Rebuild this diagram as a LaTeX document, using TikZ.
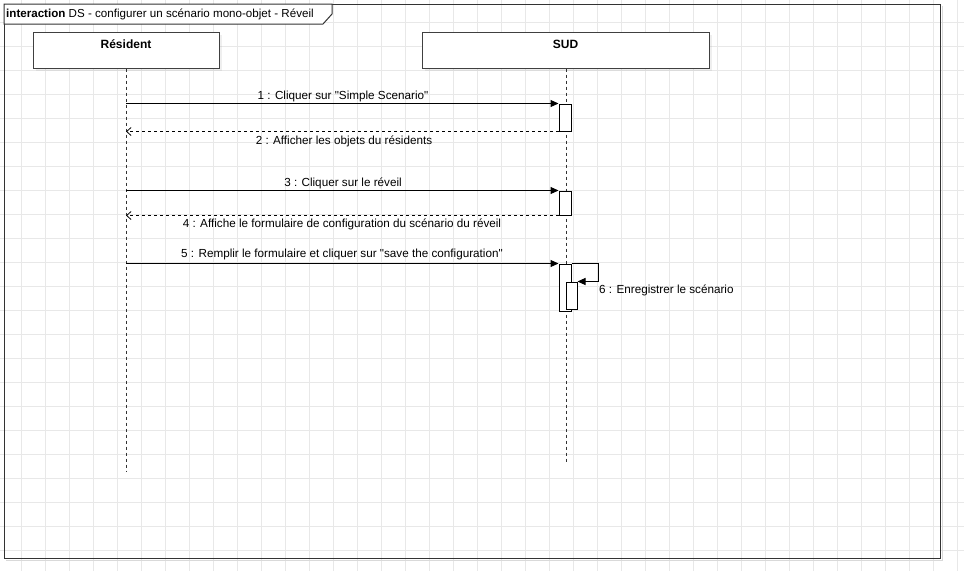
\documentclass[tikz,border=0pt]{standalone}
\usepackage{fontspec}
\setmainfont{Liberation Sans}[Ligatures=TeXOff]
\usetikzlibrary{arrows.meta,shadows,calc}

\begin{document}
\begin{tikzpicture}[x=1pt,y=-1pt,
  gridline/.style={draw=gray!18, line width=0.8pt},
  frameline/.style={draw=black!80, line width=1pt},
  actorbox/.style={draw=black!75, fill=white, line width=1pt, minimum height=36pt,
    inner sep=0pt, drop shadow={shadow xshift=3pt, shadow yshift=-3pt, opacity=0.12}},
  actorname/.style={anchor=base, inner sep=0pt, font=\fontsize{12}{14}\selectfont\bfseries},
  lifeline/.style={draw=black!80, line width=1pt, dash pattern=on 3pt off 3pt},
  actbox/.style={draw=black, fill=white, line width=1pt, minimum width=12pt, inner sep=0pt},
  msg/.style={draw=black, line width=1pt, -{Triangle[length=8pt,width=7pt]}},
  reply/.style={draw=black, line width=1pt, dash pattern=on 3pt off 3pt,
    -{Straight Barb[length=4.5pt,width=8pt,line width=0.8pt]}},
  msglabel/.style={anchor=base, inner sep=0pt, font=\fontsize{11.7}{13.5}\selectfont},
]
\useasboundingbox (0,0) rectangle (964,571);
\fill[white] (0,0) rectangle (964,571);

% background grid
\foreach \gx in {21,45,...,957} \draw[gridline] (\gx,0) -- (\gx,571);
\foreach \gy in {22,46,...,550} \draw[gridline] (0,\gy) -- (964,\gy);

% interaction frame
\draw[draw=black!15, line width=1pt] (6,560) -- (942,560) -- (942,6);
\draw[frameline] (4,4) rectangle (940,558);
\draw[frameline, fill=white] (4,4) -- (332,4) -- (332,14) -- (323,24) -- (4,24) -- cycle;
\node[anchor=base west, inner sep=0pt, font=\fontsize{11.6}{14}\selectfont] (title) at (6,17)
  {\textbf{interaction} DS - configurer un scénario mono-objet - Réveil};

% participants
\node[actorbox, minimum width=186pt] (res) at (126,50) {};
\node[actorname] (resname) at (126,48) {Résident};
\node[actorbox, minimum width=287pt] (sud) at (565.5,50) {};
\node[actorname] (sudname) at (565.5,48) {SUD};

% lifelines
\coordinate (resend) at (126,471);
\coordinate (sudend) at (566,464);
\draw[lifeline] (res.south) -- (resend);
\draw[lifeline] (sudend |- sud.south) -- (sudend);

% activations
\node[actbox, minimum height=27pt] (a1) at (565,117.5) {};
\node[actbox, minimum height=24pt] (a3) at (565,203) {};
\node[actbox, minimum height=47pt] (a5) at (565,287.5) {};
\node[actbox, minimum width=11pt, minimum height=27pt] (a6) at (571.5,295.5) {};

% messages
\draw[msg] (res.south |- a1.north west) -- (a1.north west);
\node[msglabel] (l1) at (343,99) {1 : Cliquer sur "Simple Scenario"};
\draw[reply] (a1.south west) -- (res.south |- a1.south west);
\node[msglabel] (l2) at (344,144) {2 : Afficher les objets du résidents};

\draw[msg] (res.south |- a3.north west) -- (a3.north west);
\node[msglabel] (l3) at (343,186) {3 : Cliquer sur le réveil};
\draw[reply] (a3.south west) -- (res.south |- a3.south west);
\node[msglabel] (l4) at (342,227) {4 : Affiche le formulaire de configuration du scénario du réveil};

\draw[msg] (res.south |- a5.north west) -- (a5.north west);
\node[msglabel] (l5) at (342,257) {5 : Remplir le formulaire et cliquer sur "save the configuration"};

\draw[msg] (a5.north east) -- ++(27,0) |- (a6.north east);
\node[msglabel, anchor=base west] (l6) at (599,293) {6 : Enregistrer le scénario};
\end{tikzpicture}
\end{document}
